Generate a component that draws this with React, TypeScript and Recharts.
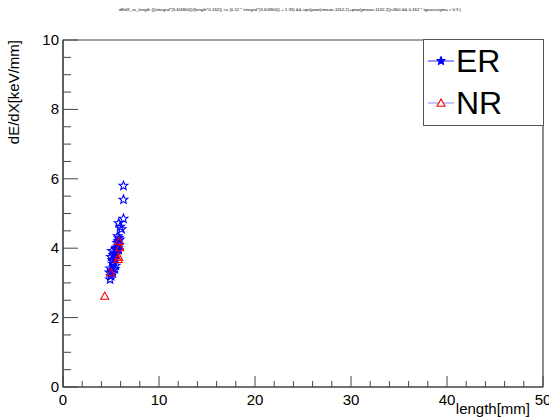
import React from 'react';
import { ScatterChart, Scatter, XAxis, YAxis, ReferenceArea, Legend, Label } from 'recharts';

const titleText =
  'dEdX_vs_length {((integral*(5.6/4800))/(length*0.162)) >= (0.12 * integral*(5.6/4800)) + 1.33) && sqrt(pow(xmean-1152,2)+pow(ymean-1152,2))<800 && 0.162 * tgausssigma > 0.3 }';

const erLength = [6.3, 6.3, 6.3, 5.8, 5.95, 6.1, 5.7, 5.8, 5.9, 5.75, 5.65, 5.85, 5.7, 5.6, 5.5, 5.8, 5.1, 5.4, 5.25, 5.55, 5.0, 5.45, 5.15, 5.3, 5.2, 5.5, 4.9, 5.1, 4.85, 5.2, 5.4, 5.0, 4.9, 5.6, 5.75];
const erDedx = [5.8, 5.4, 4.85, 4.72, 4.62, 4.55, 4.35, 4.3, 4.25, 4.2, 4.15, 4.1, 4.05, 4.0, 3.98, 3.95, 3.92, 3.88, 3.8, 3.82, 3.75, 3.7, 3.66, 3.6, 3.55, 3.5, 3.42, 3.35, 3.3, 3.28, 3.4, 3.2, 3.1, 3.95, 4.0];
const nrLength = [4.35, 5.8, 5.75, 5.9, 5.0, 5.85];
const nrDedx = [2.62, 3.75, 3.68, 4.02, 3.3, 4.2];

const xTicks = [0, 2, 4, 6, 8, 10, 12, 14, 16, 18, 20, 22, 24, 26, 28, 30, 32, 34, 36, 38, 40, 42, 44, 46, 48, 50];
const xMajor = [0, 10, 20, 30, 40, 50];
const yTicks = [0, 0.5, 1, 1.5, 2, 2.5, 3, 3.5, 4, 4.5, 5, 5.5, 6, 6.5, 7, 7.5, 8, 8.5, 9, 9.5, 10];
const yMajor = [0, 2, 4, 6, 8, 10];

const erData = erLength.map((x, i) => ({ x, y: erDedx[i] }));
const nrData = nrLength.map((x, i) => ({ x, y: nrDedx[i] }));

const AXIS = '#444';
const FONT = '"Liberation Sans", Arial, Helvetica, sans-serif';
const PLOT_LEFT = 63;
const PLOT_BOTTOM = 387;

function starPoints(cx: number, cy: number, ro: number, ri: number) {
  const pts: string[] = [];
  for (let k = 0; k < 10; k++) {
    const r = k % 2 === 0 ? ro : ri;
    const a = -Math.PI / 2 + (k * Math.PI) / 5;
    pts.push(`${cx + r * Math.cos(a)},${cy + r * Math.sin(a)}`);
  }
  return pts.join(' ');
}

const StarShape = (props: any) => {
  const { cx, cy } = props;
  if (cx == null || cy == null) return <g />;
  return <polygon points={starPoints(cx, cy, 4.6, 2)} fill="none" stroke="#0000ff" strokeWidth={1.1} />;
};

const TriShape = (props: any) => {
  const { cx, cy } = props;
  if (cx == null || cy == null) return <g />;
  const s = 4;
  return (
    <polygon
      points={`${cx},${cy - s} ${cx - s},${cy + s * 0.8} ${cx + s},${cy + s * 0.8}`}
      fill="none"
      stroke="#ff0000"
      strokeWidth={1.1}
    />
  );
};

const renderXTick = (props: any) => {
  const { x, payload } = props;
  const y = PLOT_BOTTOM;
  const major = xMajor.includes(payload.value);
  return (
    <g>
      <line x1={x} y1={y} x2={x} y2={y - (major ? 11 : 6)} stroke={AXIS} strokeWidth={1} />
      {major && (
        <text x={x} y={y + 18} textAnchor="middle" fontSize={15} fontFamily={FONT} fill="#000">
          {payload.value}
        </text>
      )}
    </g>
  );
};

const renderYTick = (props: any) => {
  const { y, payload } = props;
  const x = PLOT_LEFT;
  const major = yMajor.includes(payload.value);
  return (
    <g>
      <line x1={x} y1={y} x2={x + (major ? 15 : 8)} y2={y} stroke={AXIS} strokeWidth={1} />
      {major && (
        <text x={x - 4} y={y + 5} textAnchor="end" fontSize={15} fontFamily={FONT} fill="#000">
          {payload.value}
        </text>
      )}
    </g>
  );
};

const LegendBox = () => (
  <div
    style={{
      width: 121,
      height: 87,
      border: '1px solid #555',
      boxSizing: 'border-box',
      background: '#fff',
      fontFamily: FONT,
    }}
  >
    {[
      { name: 'ER', line: '#3333ff', shape: 'star' },
      { name: 'NR', line: '#8888ee', shape: 'tri' },
    ].map((e) => (
      <div key={e.name} style={{ display: 'flex', alignItems: 'center', height: 42 }}>
        <svg width={30} height={20} style={{ marginLeft: 2 }}>
          <line x1={2} y1={10} x2={28} y2={10} stroke={e.line} strokeWidth={1} />
          {e.shape === 'star' ? (
            <polygon points={starPoints(15, 10, 4.6, 2)} fill="#0000ff" stroke="#0000ff" strokeWidth={1} />
          ) : (
            <polygon points="15,6 11,13.2 19,13.2" fill="#fff" stroke="#ff0000" strokeWidth={1.1} />
          )}
        </svg>
        <span style={{ fontSize: 32, lineHeight: '34px', color: '#000' }}>{e.name}</span>
      </div>
    ))}
  </div>
);

export default function App() {
  return (
    <div style={{ position: 'absolute', left: 0, top: 0, width: 549, height: 417, background: '#fff' }}>
      <svg width={549} height={20} style={{ position: 'absolute', left: 0, top: 0 }}>
        <text x={290} y={11} textAnchor="middle" fontSize={4.4} fontFamily={FONT} fill="#000" textLength={342} lengthAdjust="spacingAndGlyphs">
          {titleText}
        </text>
      </svg>
      <ScatterChart width={549} height={417} margin={{ top: 40, right: 6, bottom: 0, left: 3 }}>
        <XAxis
          type="number"
          dataKey="x"
          domain={[0, 50]}
          ticks={xTicks}
          interval={0}
          height={30}
          tickLine={false}
          axisLine={{ stroke: AXIS, strokeWidth: 1.2 }}
          tick={renderXTick}
          allowDataOverflow
        >
          <Label
            content={() => (
              <text x={530} y={414} textAnchor="end" fontSize={15} fontFamily={FONT} fill="#000">
                length[mm]
              </text>
            )}
          />
        </XAxis>
        <YAxis
          type="number"
          dataKey="y"
          domain={[0, 10]}
          ticks={yTicks}
          interval={0}
          width={60}
          tickLine={false}
          axisLine={{ stroke: AXIS, strokeWidth: 1.2 }}
          tick={renderYTick}
          allowDataOverflow
        >
          <Label
            content={() => (
              <text
                x={19}
                y={40}
                transform="rotate(-90 19 40)"
                textAnchor="end"
                fontSize={15}
                fontFamily={FONT}
                fill="#000"
              >
                dE/dX[keV/mm]
              </text>
            )}
          />
        </YAxis>
        <ReferenceArea x1={0} x2={50} y1={0} y2={10} fill="none" stroke={AXIS} strokeWidth={1.2} ifOverflow="visible" />
        <Scatter name="ER" data={erData} shape={<StarShape />} isAnimationActive={false} />
        <Scatter name="NR" data={nrData} shape={<TriShape />} isAnimationActive={false} />
        <Legend
          layout="vertical"
          verticalAlign="middle"
          align="center"
          content={() => <LegendBox />}
          wrapperStyle={{ position: 'absolute', left: 423, top: 39, width: 121, height: 87 }}
        />
      </ScatterChart>
    </div>
  );
}
